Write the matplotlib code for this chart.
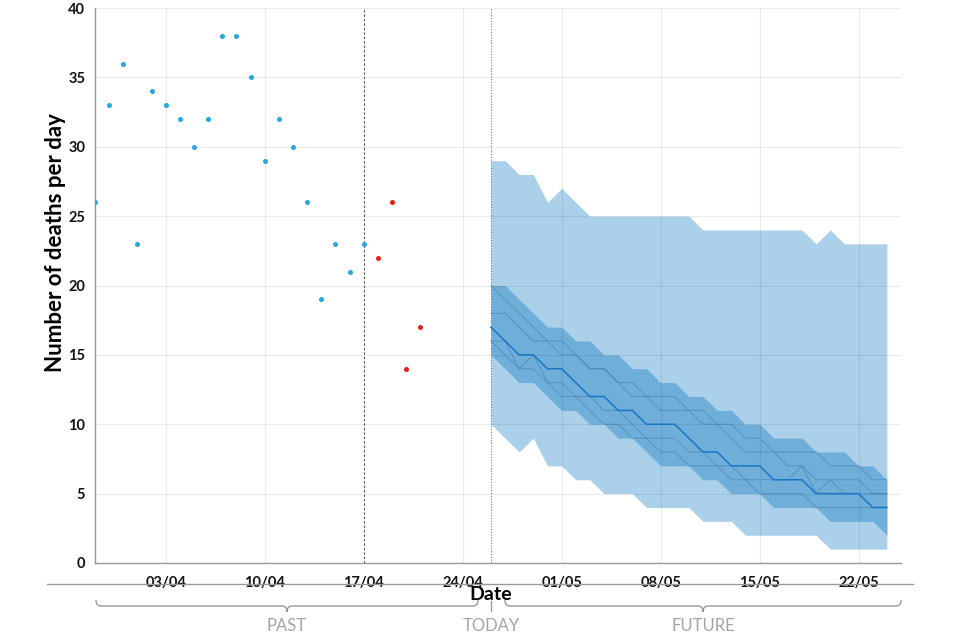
import matplotlib
matplotlib.use('Agg')
import numpy as np
import pandas as pd
import matplotlib.pyplot as plt
import matplotlib.dates as mdates
from matplotlib.lines import Line2D
from matplotlib.path import Path
from matplotlib.patches import PathPatch

plt.rcParams['font.family'] = ['Lato', 'DejaVu Sans']

# observed deaths (blue = consolidated, red = recent, still incomplete)
past_start = '2020-03-29'
deaths_past = [26, 33, 36, 23, 34, 33, 32, 30, 32, 38, 38, 35, 29, 32, 30, 26, 19, 23, 21, 23]
recent_start = '2020-04-18'
deaths_recent = [22, 26, 14, 17]

# projection from today
forecast_start = '2020-04-26'
outer_hi = [29, 29, 28, 28, 26, 27, 26, 25, 25, 25, 25, 25, 25, 25, 25, 24, 24, 24, 24, 24, 24, 24, 24, 23, 24, 23, 23, 23, 23]
outer_lo = [10, 9, 8, 9, 7, 7, 6, 6, 5, 5, 5, 4, 4, 4, 4, 3, 3, 3, 2, 2, 2, 2, 2, 2, 1, 1, 1, 1, 1]
inner_hi = [20, 20, 19, 18, 17, 17, 16, 16, 15, 15, 14, 14, 13, 13, 12, 12, 11, 11, 10, 10, 9, 9, 9, 8, 8, 8, 7, 7, 6]
inner_lo = [15, 14, 13, 13, 12, 11, 11, 10, 10, 9, 9, 8, 7, 7, 7, 6, 6, 5, 5, 5, 4, 4, 4, 4, 3, 3, 3, 3, 2]
median = [17, 16, 15, 15, 14, 14, 13, 12, 12, 11, 11, 10, 10, 10, 9, 8, 8, 7, 7, 7, 6, 6, 6, 5, 5, 5, 5, 4, 4]
traj1 = [20, 19, 18, 17, 16, 15, 15, 14, 14, 13, 13, 12, 12, 12, 11, 11, 10, 10, 9, 9, 8, 8, 8, 8, 7, 7, 7, 6, 6]
traj2 = [18, 18, 17, 16, 16, 16, 15, 14, 14, 13, 12, 12, 11, 11, 11, 10, 10, 9, 8, 8, 8, 7, 7, 6, 6, 6, 6, 5, 5]
traj3 = [16, 16, 14, 15, 13, 13, 12, 12, 11, 11, 10, 9, 9, 9, 8, 8, 7, 7, 6, 6, 6, 6, 7, 5, 6, 5, 5, 5, 5]
traj4 = [16, 15, 14, 14, 13, 12, 12, 11, 10, 10, 9, 9, 8, 8, 7, 7, 7, 6, 6, 5, 5, 5, 5, 4, 4, 4, 4, 4, 4]

cutoff_date = '2020-04-17'
tick_start = '2020-04-03'
x_range = ('2020-03-29', '2020-05-25')

past_dates = pd.date_range(past_start, periods=len(deaths_past))
recent_dates = pd.date_range(recent_start, periods=len(deaths_recent))
fc_dates = pd.date_range(forecast_start, periods=len(median))

fig = plt.figure(figsize=(9.6, 6.4), dpi=100)
ax = fig.add_axes([95 / 960, 1 - 563 / 640, 806 / 960, 555 / 640])

ax.fill_between(fc_dates, outer_lo, outer_hi, color='#abd0ea', lw=0, zorder=1)
ax.fill_between(fc_dates, inner_lo, inner_hi, color='#6eaed9', lw=0, zorder=1.2)
for t in [traj1, traj2, traj3, traj4]:
    ax.plot(fc_dates, t, color='#3b76a6', lw=0.7, alpha=0.5, zorder=3)
ax.plot(fc_dates, median, color='#1a76c6', lw=1.1, zorder=3.2)

ax.scatter(past_dates, deaths_past, s=13, color='#27a7df', lw=0, zorder=4)
ax.scatter(recent_dates, deaths_recent, s=13, color='#e8231d', lw=0, zorder=4)

ax.axvline(pd.Timestamp(cutoff_date), color='#555555', ls=(0, (2, 2)), lw=0.8, zorder=3)
ax.axvline(pd.Timestamp(forecast_start), color='#777777', ls=(0, (1, 1.5)), lw=0.8, zorder=3)

ax.set_xlim(pd.Timestamp(x_range[0]), pd.Timestamp(x_range[1]))
ax.set_ylim(0, 40)
ax.set_yticks(np.arange(0, 41, 5))
ax.set_xticks(pd.date_range(tick_start, periods=8, freq='7D'))
ax.xaxis.set_major_formatter(mdates.DateFormatter('%d/%m'))
ax.tick_params(length=0, labelsize=10.5, colors='#111111')
ax.tick_params(axis='x', pad=9)
ax.tick_params(axis='y', pad=7)
for lab in ax.get_xticklabels() + ax.get_yticklabels():
    lab.set_fontweight('bold')

ax.set_axisbelow(False)
ax.grid(True, color='black', alpha=0.08, lw=0.8)
for s in ['top', 'right']:
    ax.spines[s].set_visible(False)
ax.spines['left'].set_color('#999999')
ax.spines['left'].set_linewidth(1)
ax.spines['bottom'].set_color('#999999')
ax.spines['bottom'].set_linewidth(1)

ax.set_ylabel('Number of deaths per day', fontsize=16, fontweight='bold')
ax.yaxis.set_label_coords(-0.036, 0.578)


def fx(x):
    return x / 960


def fy(y):
    return 1 - y / 640


# separator line and Date label
fig.add_artist(Line2D([fx(47), fx(913)], [fy(584), fy(584)], color='#999999', lw=1))
fig.text(fx(491), fy(594), 'Date', fontsize=14, fontweight='bold', ha='center', va='center')


def brace(x0, x1, xc, ytop=600, ymid=606, ytip=612, r=5):
    verts = [(x0, ytop), (x0, ymid), (x0 + r, ymid),
             (xc - r, ymid), (xc, ymid), (xc, ytip),
             (xc, ymid), (xc + r, ymid),
             (x1 - r, ymid), (x1, ymid), (x1, ytop)]
    codes = [Path.MOVETO, Path.CURVE3, Path.CURVE3,
             Path.LINETO, Path.CURVE3, Path.CURVE3,
             Path.CURVE3, Path.CURVE3,
             Path.LINETO, Path.CURVE3, Path.CURVE3]
    pts = [(fx(a), fy(b)) for a, b in verts]
    patch = PathPatch(Path(pts, codes), fill=False, edgecolor='#999999', lw=1,
                      transform=fig.transFigure)
    fig.add_artist(patch)


brace(96, 478, 287)
brace(505, 901, 703)
fig.add_artist(Line2D([fx(491), fx(491)], [fy(601), fy(611)], color='#999999', lw=1))

for label, x in [('PAST', 287), ('TODAY', 491), ('FUTURE', 703)]:
    fig.text(fx(x), fy(626), label, fontsize=12, color='#a5a5a5', ha='center', va='center')

fig.savefig('out.png', dpi=100)
